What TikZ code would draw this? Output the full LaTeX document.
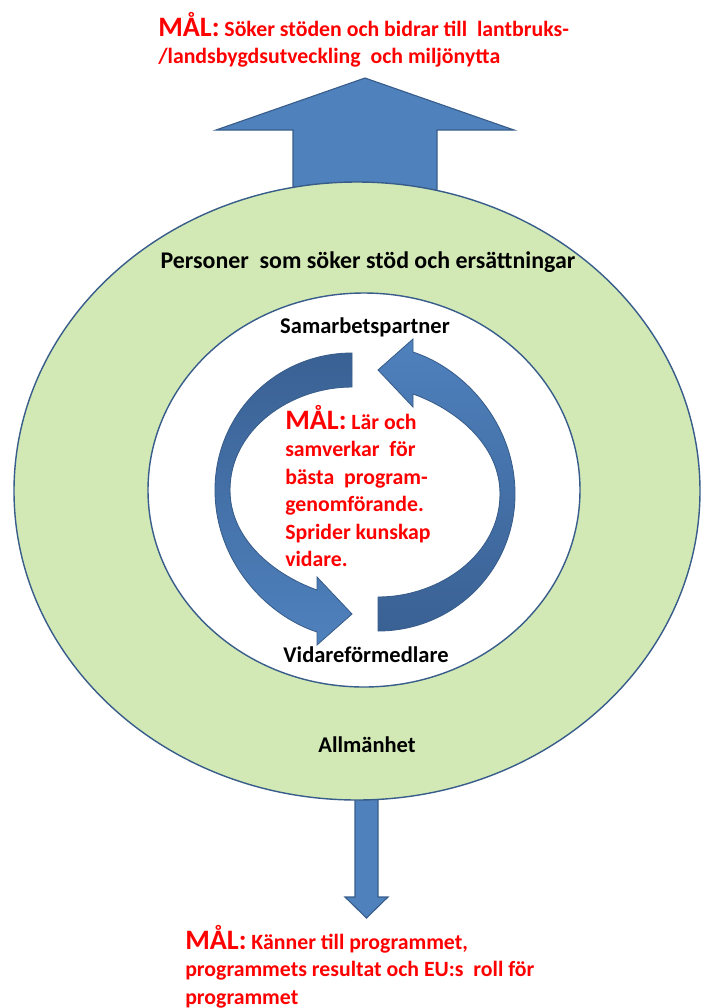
\documentclass[tikz,border=0pt]{standalone}
\usepackage{fontspec}
\setmainfont{Carlito}
\usepackage{xcolor}
\definecolor{b1}{HTML}{4F81BD}
\definecolor{b2}{HTML}{385D8A}
\definecolor{b3}{HTML}{3A6194}
\definecolor{g1}{HTML}{D2E9B6}
\definecolor{r1}{HTML}{FF0000}

\tikzset{
  lbl/.style={font=\bfseries\fontsize{16}{19}\selectfont, inner sep=0pt},
  goal/.style={font=\bfseries\fontsize{15.5}{19.5}\selectfont, text=r1, align=left, anchor=north west, inner sep=0pt},
  bigarrow/.style={fill=b1, draw=b2, line width=0.8pt},
  ringarrow/.style={draw=b2, line width=0.6pt},
}
\newcommand{\mal}{{\fontsize{20}{20}\selectfont MÅL:}}

\begin{document}
\begin{tikzpicture}[x=0.25mm,y=-0.25mm]
	\useasboundingbox (0,0) rectangle (705,1008);
	% pilar ut fran ringarna
	\draw[bigarrow] (293,205) -- (293,130) -- (216,130) -- (365,78) -- (514,130) -- (437,130) -- (437,205) -- cycle;
	\draw[bigarrow] (355,780) -- (355,897) -- (345,897) -- (366.5,918) -- (388,897) -- (378,897) -- (378,780) -- cycle;
	% ringarna
	\draw[fill=g1, draw=b2, line width=1pt] (357,491) ellipse [x radius=343, y radius=309];
	\draw[fill=white, draw=b2, line width=1pt] (364,490) ellipse [x radius=216, y radius=197];

	\begin{scope}
	\shade[ringarrow, top color=b3, bottom color=b1] (352,353) .. controls (276,353) and (215,414) .. (215,490)
		.. controls (215,560) and (265,615) .. (317,632) -- (317,645) -- (352,614) -- (317,577) -- (317,590)
		.. controls (275,575) and (230,540) .. (230,490) .. controls (230,430) and (290,387) .. (352,387) -- cycle;
	\end{scope}

	\begin{scope}[rotate around={180:(365,492)}]
	\shade[ringarrow, top color=b1, bottom color=b3] (352,353) .. controls (276,353) and (215,414) .. (215,490)
		.. controls (215,560) and (265,615) .. (317,632) -- (317,645) -- (352,614) -- (317,577) -- (317,590)
		.. controls (275,575) and (230,540) .. (230,490) .. controls (230,430) and (290,387) .. (352,387) -- cycle;
	\end{scope}

	\node[goal] (maltopp) at (158,12) {\mal{} Söker stöden och bidrar till~ lantbruks-\\/landsbygdsutveckling~ och miljönytta};
	\node[lbl, font=\bfseries\fontsize{17}{20}\selectfont] (personer) at (368,262) {Personer~ som söker stöd och ersättningar};
	\node[lbl] (samarbete) at (365,327) {Samarbetspartner};
	\node[goal] (malmitt) at (285,405) {\mal{} Lär och\\samverkar~ för\\bästa~ program-\\genomförande.\\Sprider kunskap\\vidare.};
	\node[lbl] (vidare) at (366,655) {Vidareförmedlare};
	\node[lbl] (allman) at (367,745) {Allmänhet};
	\node[goal] (malbotten) at (185,925) {\mal{} Känner till programmet,\\programmets resultat och EU:s~ roll för\\programmet};
\end{tikzpicture}
\end{document}
